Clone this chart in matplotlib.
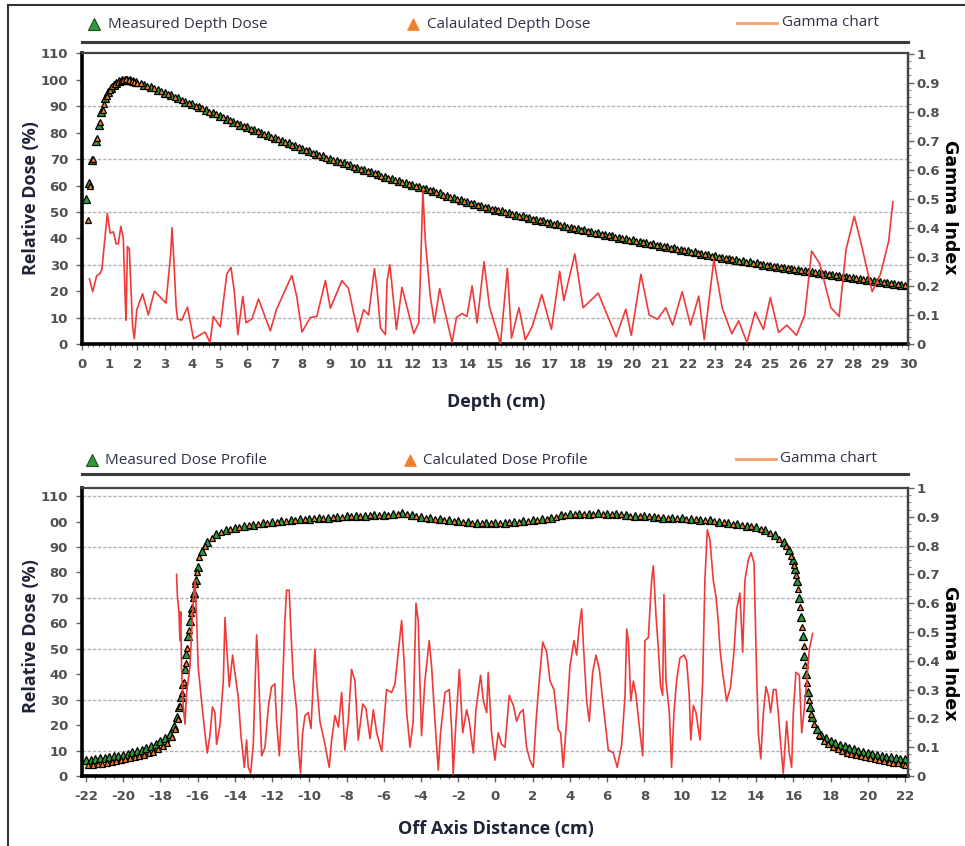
import numpy as np
import matplotlib
matplotlib.use("Agg")
import matplotlib.pyplot as plt
from matplotlib.lines import Line2D
from matplotlib.ticker import MultipleLocator

# ---------------- DATA: depth dose (top chart) ----------------
depth_meas = [0.15, 0.25, 0.35, 0.5, 0.6, 0.7, 0.85, 0.95, 1.05, 1.15, 1.25, 1.35,
              1.45, 1.55, 1.65, 1.75, 1.85, 1.95] + list(np.arange(2.25, 30.01, 0.25))
dose_meas = [55, 61, 69.5, 77, 83, 88, 93, 95.5, 97, 98.2, 99, 99.5,
             99.8, 100, 100, 99.8, 99.4, 99.1,
             98.2, 97.3, 96.3, 95.2, 94.1, 93.0, 91.8, 90.7, 89.7, 88.6, 87.5, 86.4,
             85.3, 84.2, 83.1, 82.0, 81.0, 80.0, 79.0, 78.0, 77.0, 76.0, 75.0, 74.0,
             73.0, 72.0, 71.0, 70.1, 69.2, 68.4, 67.6, 66.8, 65.9, 65.1, 64.2, 63.4,
             62.6, 61.8, 61.0, 60.2, 59.4, 58.6, 57.8, 57.0, 56.2, 55.4, 54.6, 53.9,
             53.1, 52.4, 51.6, 50.9, 50.2, 49.6, 48.9, 48.3, 47.7, 47.1, 46.5, 45.9,
             45.3, 44.7, 44.1, 43.6, 43.0, 42.5, 41.9, 41.4, 40.8, 40.3, 39.7, 39.2,
             38.7, 38.2, 37.7, 37.2, 36.7, 36.2, 35.7, 35.2, 34.7, 34.2, 33.7, 33.2,
             32.7, 32.3, 31.8, 31.4, 30.9, 30.5, 30.1, 29.7, 29.3, 28.9, 28.5, 28.1,
             27.7, 27.3, 26.9, 26.5, 26.2, 25.8, 25.4, 25.0, 24.7, 24.3, 24.0, 23.6,
             23.2, 22.9, 22.5, 22.2]

depth_calc = [0.2, 0.3, 0.4, 0.55, 0.65, 0.75, 0.8, 0.9, 1.0, 1.1, 1.2, 1.3, 1.4,
              1.5, 1.6, 1.7, 1.8, 1.9, 2.0] + list(np.arange(2.125, 29.9, 0.25))
dose_calc = [47, 60, 70, 78, 84, 88.5, 91, 94, 96.3, 97.6, 98.6, 99.3, 99.7,
             100, 100.2, 99.9, 99.6, 99.3, 99.0,
             98.7, 97.8, 96.8, 95.8, 94.6, 93.6, 92.4, 91.2, 90.2, 89.2, 88.0, 87.0,
             85.9, 84.7, 83.7, 82.5, 81.5, 80.5, 79.5, 78.5, 77.5, 76.5, 75.5, 74.5,
             73.5, 72.5, 71.5, 70.6, 69.7, 68.8, 68.0, 67.2, 66.3, 65.5, 64.7, 63.8,
             63.0, 62.2, 61.4, 60.6, 59.8, 59.0, 58.2, 57.4, 56.6, 55.8, 55.0, 54.3,
             53.5, 52.8, 52.0, 51.3, 50.6, 49.9, 49.3, 48.6, 48.0, 47.4, 46.8, 46.2,
             45.6, 45.0, 44.4, 43.9, 43.3, 42.8, 42.2, 41.7, 41.1, 40.6, 40.0, 39.5,
             39.0, 38.5, 38.0, 37.5, 37.0, 36.5, 36.0, 35.5, 35.0, 34.5, 34.0, 33.5,
             33.0, 32.5, 32.1, 31.6, 31.2, 30.7, 30.3, 29.9, 29.5, 29.1, 28.7, 28.3,
             27.9, 27.5, 27.1, 26.7, 26.4, 26.0, 25.6, 25.2, 24.9, 24.5, 24.2, 23.8,
             23.4, 23.1, 22.7, 22.3]

gamma_depth_x = [0.27, 0.39, 0.53, 0.65, 0.72, 0.92, 1.02, 1.14, 1.24, 1.32, 1.41, 1.5,
                 1.57, 1.6, 1.65, 1.72, 1.77, 1.84, 1.9, 1.99, 2.11, 2.2, 2.41, 2.63,
                 3.05, 3.22, 3.27, 3.32, 3.42, 3.47, 3.62, 3.83, 4.05, 4.47, 4.65, 4.77,
                 5.02, 5.26, 5.41, 5.53, 5.66, 5.84, 5.96, 6.17, 6.41, 6.84, 7.06, 7.62,
                 7.8, 7.99, 8.29, 8.53, 8.84, 9.02, 9.44, 9.68, 10.01, 10.23, 10.41, 10.62,
                 10.71, 10.84, 11.02, 11.08, 11.18, 11.26, 11.42, 11.62, 12.05, 12.23,
                 12.29, 12.38, 12.47, 12.65, 12.8, 12.99, 13.44, 13.6, 13.8, 13.98, 14.17,
                 14.35, 14.5, 14.6, 14.8, 15.2, 15.45, 15.6, 15.87, 16.1, 16.35, 16.7,
                 17.05, 17.35, 17.5, 17.9, 18.2, 18.75, 19.4, 19.75, 19.95, 20.3, 20.6,
                 20.9, 21.2, 21.45, 21.8, 22.1, 22.4, 22.6, 22.95, 23.25, 23.6, 23.85,
                 24.15, 24.45, 24.75, 25.0, 25.3, 25.6, 25.95, 26.25, 26.5, 26.8, 27.2,
                 27.5, 27.75, 28.05, 28.3, 28.7, 29.0, 29.3, 29.45]
gamma_depth = [0.224, 0.18, 0.234, 0.243, 0.255, 0.449, 0.382, 0.386, 0.345, 0.345, 0.405,
               0.364, 0.15, 0.082, 0.336, 0.327, 0.209, 0.059, 0.018, 0.118, 0.15, 0.173,
               0.1, 0.182, 0.141, 0.309, 0.4, 0.318, 0.127, 0.086, 0.082, 0.127, 0.018,
               0.041, 0.005, 0.095, 0.059, 0.241, 0.264, 0.182, 0.032, 0.164, 0.073, 0.086,
               0.155, 0.045, 0.118, 0.236, 0.164, 0.041, 0.091, 0.095, 0.218, 0.123, 0.218,
               0.191, 0.041, 0.118, 0.1, 0.259, 0.195, 0.055, 0.032, 0.218, 0.273, 0.2,
               0.05, 0.195, 0.036, 0.073, 0.232, 0.527, 0.355, 0.164, 0.073, 0.191, 0.005,
               0.091, 0.105, 0.095, 0.2, 0.073, 0.2, 0.283, 0.128, 0.0, 0.26, 0.02, 0.125,
               0.015, 0.06, 0.17, 0.05, 0.25, 0.15, 0.31, 0.125, 0.175, 0.025, 0.12, 0.03,
               0.24, 0.1, 0.085, 0.125, 0.065, 0.18, 0.065, 0.165, 0.015, 0.29, 0.125,
               0.035, 0.08, 0.005, 0.11, 0.05, 0.16, 0.04, 0.065, 0.03, 0.1, 0.32, 0.275,
               0.125, 0.095, 0.325, 0.44, 0.345, 0.18, 0.24, 0.355, 0.49]

# ---------------- DATA: dose profile (bottom chart) ----------------
prof_x_meas = list(np.arange(-22, -17.49, 0.25)) + \
              [-17.25, -17.1, -17.0, -16.9, -16.8, -16.7, -16.6, -16.5, -16.4, -16.3,
               -16.2, -16.1, -16.0, -15.75, -15.5] + list(np.arange(-15, 15.01, 0.5)) + \
              [15.5, 15.75, 16.0, 16.1, 16.2, 16.3, 16.4, 16.5, 16.6, 16.7, 16.8, 16.9,
               17.0, 17.25] + list(np.arange(17.5, 22.01, 0.25))
prof_meas = [6.2, 6.4, 6.7, 6.9, 7.2, 7.4, 7.7, 8.0, 8.4, 8.8, 9.3, 9.8, 10.3, 10.9,
             11.6, 12.5, 13.6, 14.9, 16.5,
             19.5, 23, 27, 31, 36, 42, 48, 55, 61, 66, 72, 77, 82, 88.5, 92,
             95, 96.5, 97.5, 98.2, 98.8, 99.3, 99.8, 100.2, 100.6, 100.9, 101.2, 101.4,
             101.6, 101.8, 102, 102.2, 102.3, 102.4, 102.5, 102.9, 103.4, 102.6, 101.8,
             101.3, 101, 100.6, 100.2, 99.8, 99.4, 99.3, 99.5, 99.6, 99.9, 100.1, 100.5,
             100.9, 101.3, 102.4, 102.8, 102.9, 103.0, 103.2, 103.0, 103.1, 102.4, 102.2,
             102, 101.9, 101.6, 101.4, 101.3, 101.1, 100.8, 100.5, 100.0, 99.5, 99.0,
             98.4, 97.8, 96.5, 94.6,
             92.0, 88.8, 84.9, 81.5, 76.5, 70, 62.5, 55, 47, 40, 33, 27,
             23, 18.5,
             16.2, 14.9, 13.8, 12.9, 12.2, 11.6, 11.0, 10.5, 10.0, 9.5, 9.1, 8.7, 8.3,
             7.9, 7.6, 7.3, 7.0, 6.7, 6.5]

prof_x_calc = list(np.arange(-21.875, -17.6, 0.25)) + \
              [-17.4, -17.2, -17.05, -16.95, -16.85, -16.75, -16.65, -16.55, -16.45,
               -16.35, -16.25, -16.15, -16.05, -15.9, -15.6, -15.25] + \
              list(np.arange(-14.75, 14.76, 0.5)) + \
              [15.25, 15.6, 15.9, 16.05, 16.15, 16.25, 16.35, 16.45, 16.55, 16.65, 16.75,
               16.85, 16.95, 17.1, 17.4] + list(np.arange(17.625, 21.9, 0.25)) + [22.0]
prof_calc = [4.2, 4.4, 4.7, 4.9, 5.2, 5.5, 5.8, 6.1, 6.5, 6.9, 7.3, 7.8, 8.3, 8.9,
             9.6, 10.5, 11.6, 13.0,
             15.5, 18.5, 22.5, 27.5, 32.5, 37.0, 44.5, 50.5, 57.5,
             64.0, 70.0, 75.5, 80.0, 86.0, 90.5, 93.5,
             95.8, 97.0, 97.9, 98.5, 99.0, 99.6, 100.0, 100.4, 100.8, 101.0, 101.3, 101.5,
             101.7, 101.9, 102.1, 102.2, 102.4, 102.4, 102.7, 103.1, 103.0, 102.2, 101.5,
             101.1, 100.8, 100.4, 100.0, 99.6, 99.3, 99.4, 99.6, 99.7, 100.0, 100.3, 100.7,
             101.1, 101.8, 102.6, 102.9, 102.9, 103.1, 103.1, 103.0, 102.8, 102.3, 102.1,
             102.0, 101.7, 101.5, 101.3, 101.2, 100.9, 100.6, 100.2, 99.7, 99.2, 98.7,
             98.1, 97.2, 95.6,
             93.3, 90.5, 86.5, 83.0, 79.0, 73.5, 66.5, 58.5, 51.0, 43.5, 36.5,
             30.0, 24.5, 20.5, 16.0,
             13.6, 12.4, 11.4, 10.6, 9.9, 9.2, 8.7, 8.2, 7.8, 7.4, 7.0, 6.6, 6.2, 5.9,
             5.6, 5.3, 5.0, 4.7, 4.5]

gamma_prof_x = [-17.13, -17.09, -17.00, -16.95, -16.91, -16.86, -16.77, -16.68, -16.59,
                -16.41, -16.23, -16.14, -16.05, -15.97, -15.79, -15.61, -15.48, -15.34,
                -15.20, -15.07, -14.98, -14.80, -14.62, -14.53, -14.44, -14.30, -14.12,
                -14.00, -13.82, -13.67, -13.49, -13.37, -13.28, -13.15, -13.01, -12.83,
                -12.74, -12.56, -12.38, -12.20, -12.03, -11.85, -11.76, -11.61, -11.49,
                -11.31, -11.22, -11.08, -11.00, -10.86, -10.68, -10.59, -10.47, -10.36,
                -10.23, -10.06, -9.91, -9.79, -9.70, -9.61, -9.43, -9.16, -8.93, -8.80,
                -8.62, -8.44, -8.26, -8.09, -7.91,
                -7.73, -7.55, -7.37, -7.13, -6.96, -6.74, -6.56, -6.38, -6.11, -5.85,
                -5.58, -5.40, -5.22, -5.04, -4.92, -4.77, -4.59, -4.42, -4.27, -4.15,
                -4.06, -3.97, -3.79, -3.56, -3.43, -3.25, -3.07, -2.95, -2.71, -2.48,
                -2.35, -2.27, -2.12, -1.94, -1.76, -1.55, -1.41, -1.19, -1.05, -0.80,
                -0.65, -0.47, -0.39, -0.21, -0.03, 0.15, 0.33, 0.51, 0.74, 0.96, 1.14,
                1.32, 1.49, 1.67, 1.85, 2.03, 2.18, 2.35, 2.54, 2.75, 2.93, 3.14, 3.38,
                3.50, 3.64, 3.82, 4.00, 4.22, 4.36, 4.50, 4.63, 4.72, 4.90, 5.04, 5.22,
                5.40, 5.58, 5.79, 6.06, 6.33, 6.54, 6.78, 6.96,
                7.05, 7.14, 7.27, 7.41, 7.55, 7.73, 7.91, 8.03, 8.21, 8.39, 8.48, 8.62,
                8.75, 8.87, 8.98, 9.05, 9.16, 9.34, 9.46, 9.59, 9.73, 9.91, 10.13, 10.27,
                10.41, 10.49, 10.63, 10.77, 10.99, 11.13, 11.25, 11.38, 11.52, 11.70,
                11.85, 11.97, 12.06, 12.20, 12.42, 12.63, 12.81, 12.96, 13.13, 13.28,
                13.40, 13.58, 13.73, 13.89, 14.00, 14.12, 14.25, 14.39, 14.53, 14.66,
                14.78, 14.93, 15.07, 15.19, 15.32, 15.46, 15.64, 15.78, 15.91, 16.00,
                16.14, 16.32, 16.45, 16.57, 16.72, 16.86, 17.04]
gamma_prof = [0.70, 0.63, 0.565, 0.47, 0.57, 0.37, 0.24, 0.18, 0.29,
              0.38, 0.62, 0.68, 0.54, 0.38, 0.26, 0.15, 0.08, 0.14,
              0.24, 0.22, 0.11, 0.175, 0.33, 0.55, 0.45, 0.31, 0.42,
              0.36, 0.275, 0.14, 0.03, 0.125, 0.03, 0.01, 0.11, 0.49,
              0.38, 0.07, 0.10, 0.24, 0.31, 0.32, 0.19, 0.07, 0.22,
              0.54, 0.645, 0.645, 0.52, 0.34, 0.23, 0.10, 0.01, 0.15,
              0.21, 0.22, 0.165, 0.32, 0.44, 0.33, 0.19, 0.11, 0.03, 0.125,
              0.21, 0.17, 0.29, 0.09, 0.19,
              0.37, 0.33, 0.125, 0.25, 0.235, 0.13, 0.23, 0.15, 0.085, 0.30,
              0.29, 0.32, 0.43, 0.54, 0.41, 0.22, 0.10, 0.19, 0.60, 0.54,
              0.33, 0.14, 0.33, 0.47, 0.38, 0.19, 0.02, 0.15, 0.29, 0.30,
              0.16, 0.005, 0.19, 0.37, 0.15, 0.23, 0.19, 0.08, 0.23, 0.35,
              0.26, 0.22, 0.36, 0.15, 0.055, 0.15, 0.11, 0.10, 0.28, 0.245, 0.19,
              0.22, 0.23, 0.10, 0.055, 0.03, 0.19, 0.33, 0.465, 0.43, 0.33, 0.30, 0.16,
              0.15, 0.03, 0.19, 0.38, 0.47, 0.42, 0.52, 0.58, 0.46, 0.26, 0.19, 0.36,
              0.42, 0.37, 0.245, 0.09, 0.08, 0.03, 0.11, 0.28,
              0.51, 0.47, 0.26, 0.33, 0.28, 0.17, 0.07, 0.47, 0.48, 0.68, 0.73, 0.56,
              0.44, 0.31, 0.28, 0.63, 0.33, 0.22, 0.03, 0.22, 0.33, 0.41, 0.42, 0.40,
              0.28, 0.125, 0.245, 0.22, 0.125, 0.33, 0.68, 0.855, 0.82, 0.68,
              0.62, 0.535, 0.44, 0.36, 0.26, 0.31, 0.43, 0.58, 0.635, 0.43,
              0.68, 0.75, 0.775, 0.74, 0.43, 0.15, 0.06, 0.22, 0.31, 0.28,
              0.22, 0.30, 0.30, 0.22, 0.11, 0.01, 0.19, 0.08, 0.03, 0.22,
              0.36, 0.35, 0.15, 0.22, 0.33, 0.44, 0.495]

# tick labels
top_x_ticks = list(range(0, 31))
top_y_ticks = list(range(0, 111, 10))
bot_x_ticks = list(range(-22, 23, 2))
bot_y_ticks = list(range(0, 111, 10))
bot_y_labels = ["0", "10", "20", "30", "40", "50", "60", "70", "80", "90", "00", "110"]
gamma_ticks = [round(0.1 * i, 1) for i in range(11)]
gamma_labels = ["0", "0.1", "0.2", "0.3", "0.4", "0.5", "0.6", "0.7", "0.8", "0.9", "1"]

# ---------------- FIGURE ----------------
W, H = 965, 846
fig = plt.figure(figsize=(W / 100, H / 100), dpi=100)


def fx(px):
    return px / W


def fy(py):
    return 1 - py / H


GREEN = "#2f9a3c"
ORANGE = "#f2802a"
RED = "#f03a3a"
TICKC = "#505050"
LEGC = "#2e3149"


def style_axes(ax, xlim, ylim, xticks, yticks, ylabels, xminor, grid_levels):
    ax.set_xlim(*xlim)
    ax.set_ylim(*ylim)
    ax.set_xticks(xticks)
    ax.set_xticklabels([str(t) for t in xticks])
    ax.xaxis.set_minor_locator(MultipleLocator(xminor))
    ax.set_yticks(yticks)
    ax.set_yticklabels(ylabels)
    for lvl in grid_levels:
        ax.axhline(lvl, color="#b5b5b5", lw=1.0, ls=(0, (2.5, 1.2)), zorder=0.5)
    for s in ("left", "bottom"):
        ax.spines[s].set_linewidth(2.6)
        ax.spines[s].set_color("black")
    for s in ("top", "right"):
        ax.spines[s].set_linewidth(1.6)
        ax.spines[s].set_color("#444444")
    ax.tick_params(axis="both", which="major", direction="out", length=4, width=1,
                   color="#666666", labelsize=9.5, labelcolor=TICKC, pad=6)
    ax.tick_params(axis="x", which="minor", direction="out", length=2.5, width=0.8,
                   color="#777777")
    ax.tick_params(axis="y", which="both", right=False)
    for lab in ax.get_xticklabels() + ax.get_yticklabels():
        lab.set_fontweight("bold")


def style_right(axr):
    axr.set_ylim(0, 1)
    axr.set_yticks(gamma_ticks)
    axr.set_yticklabels(gamma_labels)
    axr.yaxis.set_minor_locator(MultipleLocator(0.025))
    for s in ("left", "top", "bottom"):
        axr.spines[s].set_visible(False)
    axr.spines["right"].set_linewidth(1.6)
    axr.spines["right"].set_color("#444444")
    axr.tick_params(axis="y", which="major", direction="out", length=4, width=1,
                    color="#666666", labelsize=9.5, labelcolor=TICKC, pad=2)
    axr.tick_params(axis="y", which="minor", direction="out", length=2, width=0.8,
                    color="#888888")
    for lab in axr.get_yticklabels():
        lab.set_fontweight("bold")


# ---------- top chart ----------
ax1 = fig.add_axes([fx(82), fy(344), (908 - 82) / W, (344 - 53.5) / H])
style_axes(ax1, (0, 30), (0, 110), top_x_ticks, top_y_ticks,
           [str(t) for t in top_y_ticks], 0.2, [10, 30, 50, 70, 90])
ax1.plot(depth_meas, dose_meas, ls="none", marker="^", ms=5.4, mfc=GREEN,
         mec="black", mew=0.9, zorder=3)
ax1.plot(depth_calc, dose_calc, ls="none", marker="^", ms=5.0, mfc=ORANGE,
         mec="black", mew=0.9, zorder=3)
ax1r = ax1.twinx()
style_right(ax1r)
ax1r.plot(gamma_depth_x, gamma_depth, color=RED, lw=1.2, zorder=4)

# ---------- bottom chart ----------
ax2 = fig.add_axes([fx(82), fy(776), (908 - 82) / W, (776 - 488) / H])
style_axes(ax2, (-22.21, 22.16), (0, 113.2), bot_x_ticks, bot_y_ticks,
           bot_y_labels, 0.5, [10, 30, 50, 70, 90, 110])
ax2.plot(prof_x_meas, prof_meas, ls="none", marker="^", ms=5.2, mfc=GREEN,
         mec="black", mew=0.9, zorder=3)
ax2.plot(prof_x_calc, prof_calc, ls="none", marker="^", ms=4.9, mfc=ORANGE,
         mec="black", mew=0.9, zorder=3)
ax2r = ax2.twinx()
style_right(ax2r)
ax2r.plot(gamma_prof_x, gamma_prof, color=RED, lw=1.2, zorder=4)

# ---------- axis titles ----------
lab_kw = dict(fontsize=13, fontweight="bold", family=["Open Sans", "DejaVu Sans"],
              color="#1f2338", ha="center", va="center")
fig.text(fx(31), fy(198), "Relative Dose (%)", rotation=90, **lab_kw)
fig.text(fx(31), fy(636), "Relative Dose (%)", rotation=90, **lab_kw)
fig.text(fx(496), fy(402), "Depth (cm)", **lab_kw)
fig.text(fx(496), fy(829), "Off Axis Distance (cm)", **lab_kw)
g_kw = dict(fontsize=12.5, fontweight="bold", family=["DejaVu Sans"], color="black",
            ha="center", va="center", rotation=270)
fig.text(fx(950), fy(207), "Gamma Index", **g_kw)
fig.text(fx(950), fy(653), "Gamma Index", **g_kw)

# ---------- legends ----------
leg_kw = dict(fontsize=11, family=["Open Sans", "DejaVu Sans"], color=LEGC,
              ha="left", va="center")


def legend_row(y, names, xs_marker, xs_text, line_x, line_text_x, sep_y):
    fig.add_artist(Line2D([fx(xs_marker[0])], [fy(y)], transform=fig.transFigure,
                          marker="^", ms=8, mfc=GREEN, mec="#1d4d22", mew=0.8, ls="none"))
    fig.text(fx(xs_text[0]), fy(y), names[0], **leg_kw)
    fig.add_artist(Line2D([fx(xs_marker[1])], [fy(y)], transform=fig.transFigure,
                          marker="^", ms=8, mfc=ORANGE, mec=ORANGE, mew=0.5, ls="none"))
    fig.text(fx(xs_text[1]), fy(y), names[1], **leg_kw)
    fig.add_artist(Line2D([fx(line_x[0]), fx(line_x[1])], [fy(y - 1), fy(y - 1)],
                          transform=fig.transFigure, color="#f6a06e", lw=2))
    fig.text(fx(line_text_x), fy(y - 1), names[2], **leg_kw)
    fig.add_artist(Line2D([fx(82), fx(908)], [fy(sep_y), fy(sep_y)],
                          transform=fig.transFigure, color="#3c3c3c", lw=2.2))


legend_row(24, ["Measured Depth Dose", "Calaulated Depth Dose", "Gamma chart"],
           (94, 413), (108, 427), (737, 777), 782, 42)
legend_row(460, ["Measured Dose Profile", "Calculated Dose Profile", "Gamma chart"],
           (92, 410), (105, 423), (736, 776), 780, 474)

# ---------- outer frame ----------
fig.add_artist(Line2D([fx(8), fx(965)], [fy(5), fy(5)], transform=fig.transFigure,
                      color="#333333", lw=1.5))
fig.add_artist(Line2D([fx(8), fx(8)], [fy(5), fy(846)], transform=fig.transFigure,
                      color="#333333", lw=1.5))

fig.savefig("out.png", dpi=100, facecolor="white")
